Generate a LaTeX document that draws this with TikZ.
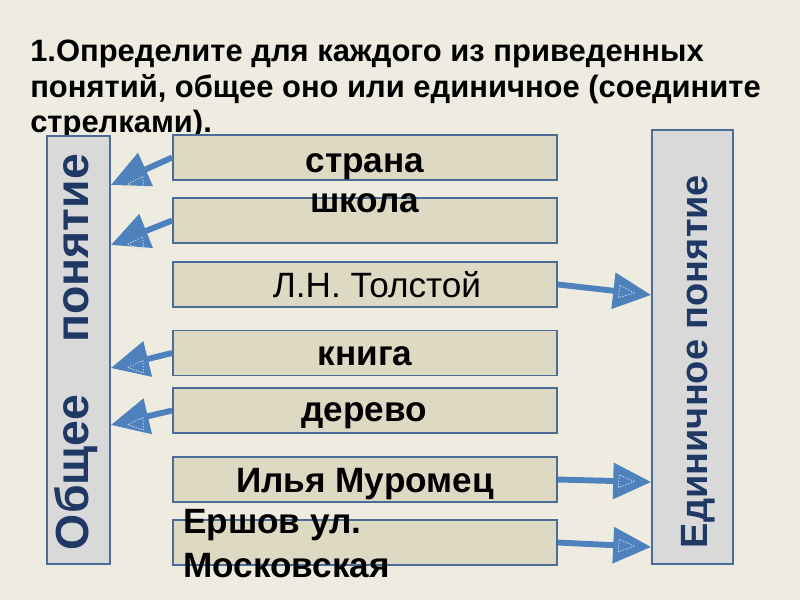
\documentclass[tikz,border=0pt]{standalone}
\usepackage{fontspec}
\setmainfont{Liberation Sans}
\usetikzlibrary{arrows.meta,calc}

\definecolor{bgcol}{HTML}{EEECE1}
\definecolor{boxfill}{HTML}{DDD9C3}
\definecolor{sidefill}{HTML}{D9D9D9}
\definecolor{edgecol}{HTML}{4A6C96}
\definecolor{navy}{HTML}{1F3864}
\definecolor{arrcol}{HTML}{4F81BD}

\tikzset{
  item/.style={draw=edgecol, line width=1.2pt, fill=boxfill, minimum width=9.6cm, minimum height=1.125cm, inner sep=0pt},
  side/.style={draw=edgecol, line width=1.2pt, fill=sidefill, inner sep=0pt},
  word/.style={font=\fontsize{25}{28}\selectfont\bfseries, anchor=base, inner sep=0pt},
  arr/.style={draw=arrcol, line width=4.2pt, -{Triangle[length=27pt,width=25pt]}},
  glint/.style={draw=white!75!arrcol, line width=0.5pt, dash pattern=on 1pt off 1pt},
}

\begin{document}
\begin{tikzpicture}[x=0.025cm, y=-0.025cm]
  \useasboundingbox (0,0) rectangle (800,600);
  \fill[bgcol] (0,0) rectangle (800,600);

  % task
  \node[anchor=north west, align=left, inner sep=0pt, font=\fontsize{22}{25.2}\selectfont\bfseries] (task) at (30,40)
    {1.Определите для каждого из приведенных\\понятий, общее оно или единичное (соедините\\стрелками).};

  % side boxes
  \node[side, minimum width=1.575cm, minimum height=10.7cm] (gen) at (78.5,350) {};
  \node[side, minimum width=2.025cm, minimum height=10.85cm] (edin) at (692.5,347) {};
  \node[rotate=90, anchor=base, inner sep=0pt, text=navy, font=\fontsize{33}{36}\selectfont\bfseries] (gentext) at (88,352) {Общее\hspace{1.3cm}понятие};
  \node[rotate=90, anchor=base, inner sep=0pt, text=navy, font=\fontsize{27}{30}\selectfont\bfseries] (edintext) at (707,361.5) {Единичное понятие};

  % concept boxes
  \foreach \n/\y in {1/157.5,2/220.5,3/284.5,4/353,5/410.5,6/479.5,7/542.5} {
    \node[item] (b\n) at (365,\y) {};
  }

  \node[word] (w1) at (365,172) {страна};
  \node[word] (w2) at (365,212) {школа};
  \node[word, font=\fontsize{25}{28}\selectfont] (w3) at (377,297) {Л.Н. Толстой};
  \node[word] (w4) at (365,365) {книга};
  \node[word] (w5) at (364,421) {дерево};
  \node[word] (w6) at (365,492) {Илья Муромец};
  \node[word, anchor=base west] (w7) at (183,533) {Ершов ул.};
  \node[word, anchor=base west] (w8) at (183,577) {Московская};

  % arrows
  \foreach \n/\t in {1/185,2/245,4/368,5/425} {
    \coordinate (t\n) at (gen.east |- 0,\t);
    \draw[arr] (b\n.west) -- (t\n);
  }
  \foreach \n/\t in {3/295,6/482,7/547} {
    \coordinate (t\n) at (edin.west |- 0,\t);
    \draw[arr] (b\n.east) -- (t\n);
  }

  % dashed glint inside each head
  \foreach \n/\s in {1/w,2/w,4/w,5/w,3/e,6/e,7/e} {
    \ifx\s w \coordinate (s\n) at (b\n.west); \else \coordinate (s\n) at (b\n.east); \fi
    \coordinate (c\n) at ($(t\n)!23pt!(s\n)$);
    \draw[glint] ($(t\n)!12pt!(s\n)$) -- ($(c\n)!4.5pt!90:(t\n)$) -- ($(c\n)!4.5pt!-90:(t\n)$) -- cycle;
  }
\end{tikzpicture}
\end{document}
